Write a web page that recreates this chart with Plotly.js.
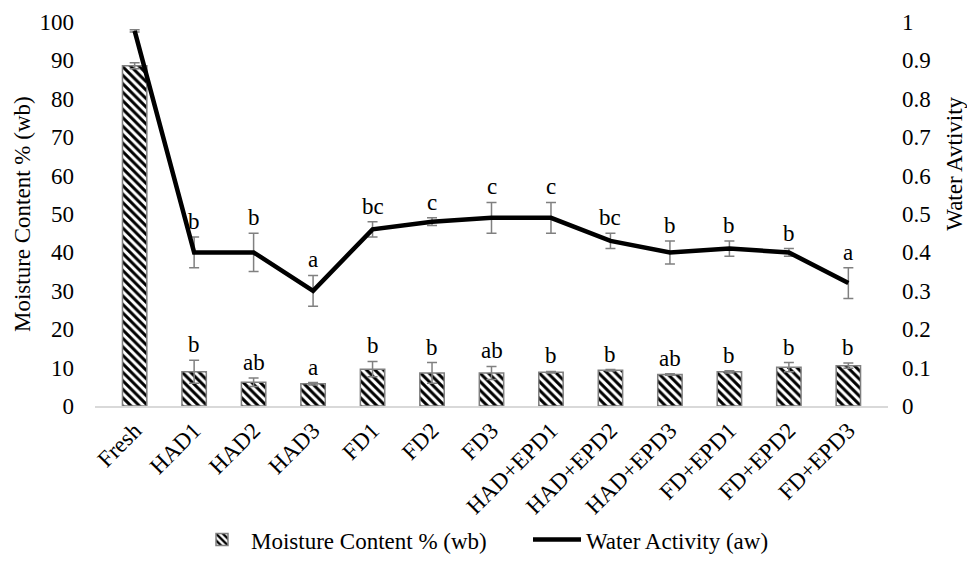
<!DOCTYPE html>
<html>
<head>
<meta charset="utf-8">
<script src="https://cdn.plot.ly/plotly-3.0.1.min.js"></script>
<style>html,body{margin:0;padding:0;background:#fff}#chart{width:967px;height:573px}</style>
</head>
<body>
<div id="chart"></div>
<script>
const categories = ['Fresh','HAD1','HAD2','HAD3','FD1','FD2','FD3','HAD+EPD1','HAD+EPD2','HAD+EPD3','FD+EPD1','FD+EPD2','FD+EPD3'];
const moisture = [88.6, 8.9, 6.2, 5.8, 9.6, 8.6, 8.6, 8.8, 9.3, 8.2, 8.9, 10.1, 10.5];
const moistureErr = [0.8, 3.0, 1.1, 0.3, 2.0, 2.7, 1.7, 0.2, 0.2, 0.2, 0.3, 1.2, 0.7];
const moistureLetters = ['', 'b','ab','a','b','b','ab','b','b','ab','b','b','b'];
const waterActivity = [0.977, 0.40, 0.40, 0.30, 0.46, 0.48, 0.49, 0.49, 0.43, 0.40, 0.41, 0.40, 0.32];
const waterActivityErr = [0.003, 0.04, 0.05, 0.04, 0.02, 0.01, 0.04, 0.04, 0.02, 0.03, 0.02, 0.01, 0.04];
const waterActivityLetters = ['', 'b','b','a','bc','c','c','c','bc','b','b','b','a'];

const FONT = 'Liberation Serif, Times New Roman, serif';
const FS = 23;

const traces = [
  {
    type: 'bar', name: 'Moisture Content % (wb)', x: categories, y: moisture,
    yaxis: 'y',
    marker: {color: '#ffffff', line: {color: '#7f7f7f', width: 1.5},
      pattern: {shape: '\\', fgcolor: '#000000', bgcolor: '#ffffff', size: 6, solidity: 0.5}},
    error_y: {type: 'data', array: moistureErr, visible: true, color: '#808080', thickness: 1.5, width: 5}
  },
  {
    type: 'scatter', mode: 'lines', name: 'Water Activity (aw)', x: categories, y: waterActivity,
    yaxis: 'y2',
    line: {color: '#000000', width: 4.5},
    error_y: {type: 'data', array: waterActivityErr, visible: true, color: '#808080', thickness: 1.5, width: 5}
  }
];

const annotations = [];
categories.forEach((c, i) => {
  if (moistureLetters[i]) annotations.push({x: c, y: moisture[i] + moistureErr[i], xref: 'x', yref: 'y',
    text: moistureLetters[i], showarrow: false, yanchor: 'bottom', yshift: 1, font: {family: FONT, size: FS, color: '#000'}});
  if (waterActivityLetters[i]) annotations.push({x: c, y: waterActivity[i] + waterActivityErr[i], xref: 'x', yref: 'y2',
    text: waterActivityLetters[i], showarrow: false, yanchor: 'bottom', yshift: 1, font: {family: FONT, size: FS, color: '#000'}});
});
annotations.push({xref: 'paper', yref: 'paper', x: -0.092, y: 0.5, text: 'Moisture Content % (wb)', textangle: -90,
  showarrow: false, xanchor: 'center', yanchor: 'middle', font: {family: FONT, size: FS, color: '#000'}});
annotations.push({xref: 'paper', yref: 'paper', x: 1.0845, y: 0.631, text: 'Water Avtivity', textangle: -90,
  showarrow: false, xanchor: 'center', yanchor: 'middle', font: {family: FONT, size: FS, color: '#000'}});

const layout = {
  width: 967, height: 573,
  margin: {l: 95, r: 79, t: 22, b: 163},
  paper_bgcolor: '#fff', plot_bgcolor: '#fff',
  font: {family: FONT, size: FS, color: '#000'},
  bargap: 0.59,
  showlegend: true,
  legend: {orientation: 'h', x: (193 - 95) / 793, xanchor: 'left', y: -0.348, yanchor: 'middle',
    itemwidth: 48, entrywidth: 272, font: {family: FONT, size: FS}},
  xaxis: {type: 'category', showline: true, linecolor: '#d9d9d9', linewidth: 2, ticks: '', showgrid: false,
    tickangle: -45, tickfont: {family: FONT, size: FS}},
  yaxis: {range: [0, 100], dtick: 10, showgrid: false, zeroline: false, showline: false, ticks: '',
    ticklabelstandoff: 20, tickfont: {family: FONT, size: FS}},
  yaxis2: {range: [0, 1], dtick: 0.1, overlaying: 'y', side: 'right', showgrid: false, zeroline: false, showline: false,
    ticks: '', ticklabelstandoff: 13, tickfont: {family: FONT, size: FS}},
  annotations: annotations
};

Plotly.newPlot('chart', traces, layout, {displayModeBar: false, staticPlot: true});
</script>
</body>
</html>
